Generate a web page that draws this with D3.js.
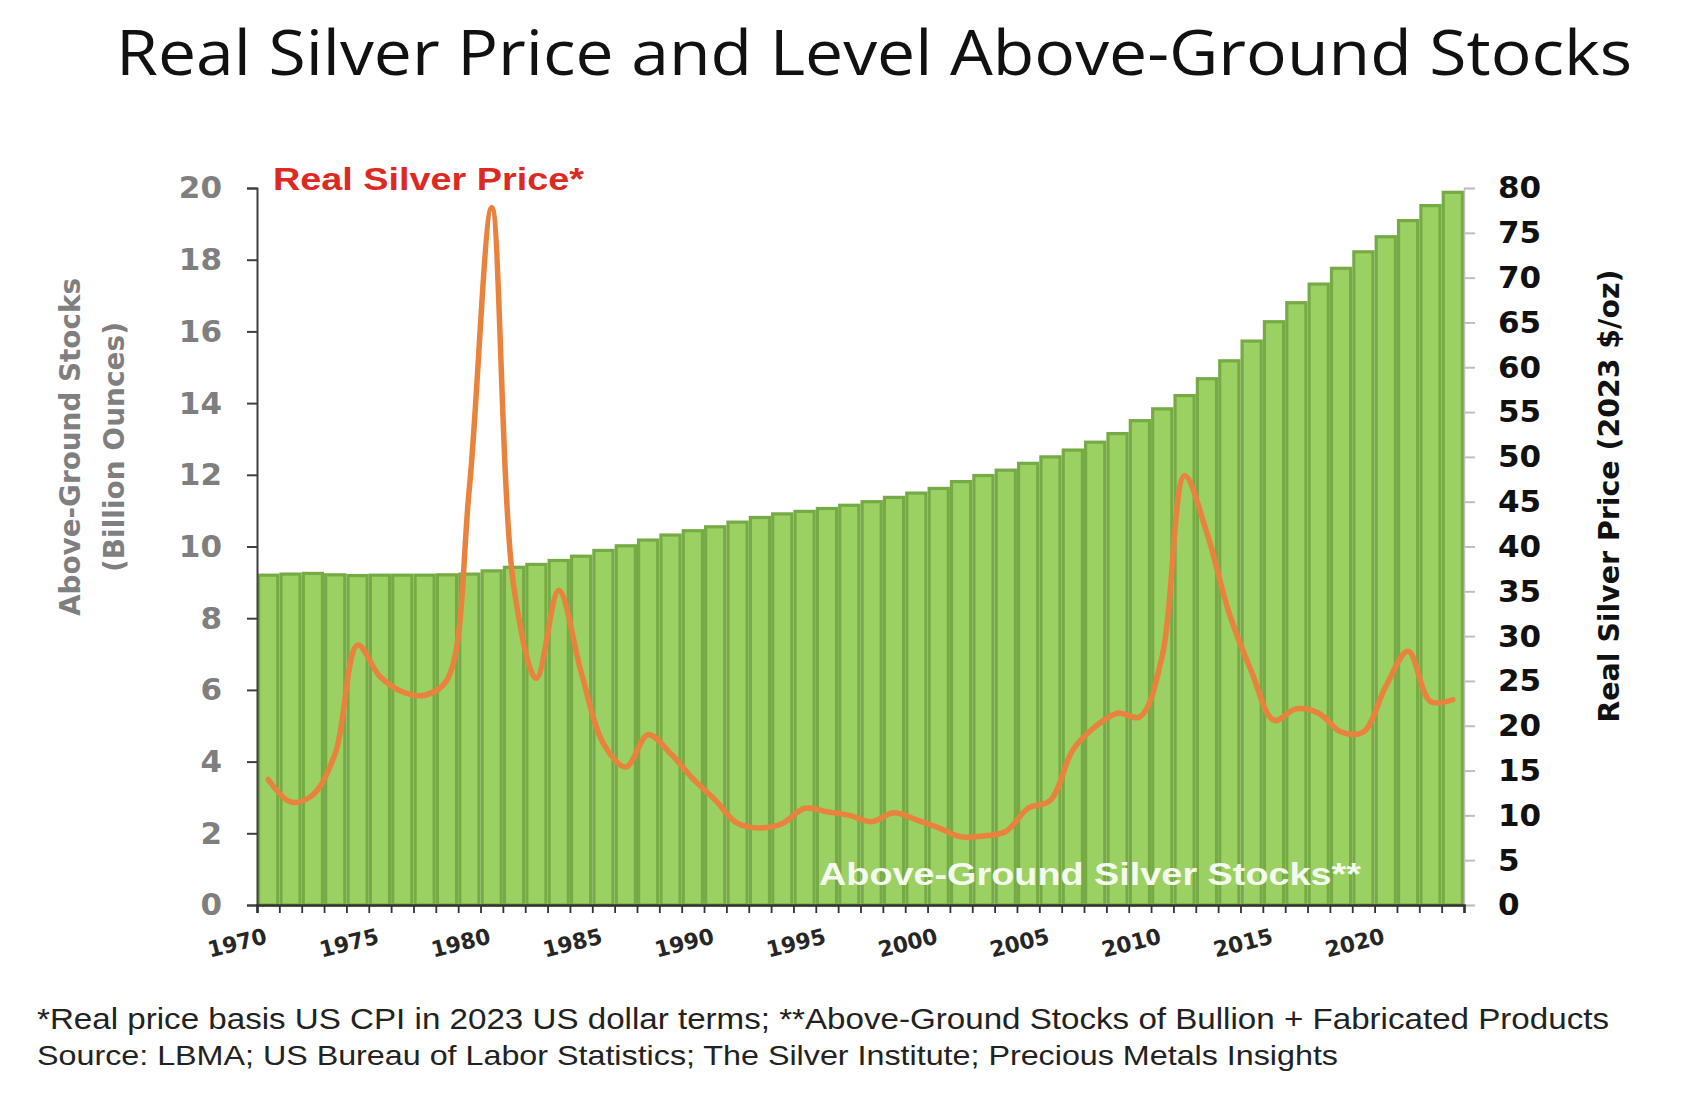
<!DOCTYPE html>
<html>
<head>
<meta charset="utf-8">
<script src="https://cdn.jsdelivr.net/npm/d3@7"></script>
<style>
  html, body { margin: 0; padding: 0; background: #fff; }
  svg { display: block; }
</style>
</head>
<body>
<div id="chart"></div>
<script>
// Years shown on the category axis (one bar per year)
const years = d3.range(1970, 2024);

// Above-ground silver stocks, billion ounces
const stocks = [
  9.20, 9.23, 9.25, 9.21, 9.19, 9.20, 9.20, 9.20, 9.21, 9.23,
  9.32, 9.42, 9.50, 9.61, 9.73, 9.89, 10.02, 10.18, 10.32, 10.44,
  10.55, 10.68, 10.81, 10.91, 10.98, 11.06, 11.15, 11.25, 11.37, 11.49,
  11.62, 11.81, 11.98, 12.13, 12.32, 12.50, 12.69, 12.91, 13.15, 13.51,
  13.84, 14.21, 14.68, 15.18, 15.73, 16.27, 16.80, 17.32, 17.76, 18.22,
  18.64, 19.09, 19.51, 19.88
];

// Real silver price, 2023 $/oz
const prices = [
  14.0, 11.5, 12.3, 16.9, 29.0, 25.5, 23.8, 23.4, 25.1, 46.5,
  77.8, 35.3, 25.3, 35.1, 26.0, 18.0, 15.4, 19.0, 16.9, 14.1,
  11.7, 9.1, 8.6, 9.1, 10.8, 10.4, 10.0, 9.3, 10.3, 9.5,
  8.6, 7.6, 7.7, 8.2, 10.8, 11.7, 17.3, 19.9, 21.4, 21.0,
  27.8, 47.9, 41.5, 32.5, 26.0, 20.6, 21.9, 21.4, 19.3, 19.3,
  24.4, 28.3, 22.7, 22.9
];

const leftTicks = d3.range(0, 21, 2);
const rightTicks = d3.range(0, 81, 5);
const labelYears = d3.range(1970, 2021, 5);

const title = "Real Silver Price and Level Above-Ground Stocks";
const leftTitle = ["Above-Ground Stocks", "(Billion Ounces)"];
const rightTitle = "Real Silver Price (2023 $/oz)";
const priceLabel = "Real Silver Price*";
const stockLabel = "Above-Ground Silver Stocks**";
const notes = [
  "*Real price basis US CPI in 2023 US dollar terms; **Above-Ground Stocks of Bullion + Fabricated Products",
  "Source: LBMA; US Bureau of Labor Statistics; The Silver Institute; Precious Metals Insights"
];

const width = 1690, height = 1098;
const plot = {left: 257, right: 1464, top: 188, bottom: 905};

const svg = d3.select("#chart").append("svg")
  .attr("width", width)
  .attr("height", height)
  .attr("viewBox", [0, 0, width, height]);

svg.append("rect").attr("width", width).attr("height", height).attr("fill", "#fff");

// stretch text to a measured width, the picture is a bit wide
const fit = (sel, w) => sel.attr("textLength", w).attr("lengthAdjust", "spacingAndGlyphs");

const x = d3.scaleBand().domain(years).range([plot.left, plot.right]).padding(0);
const xEdge = d3.scaleLinear([1970, 2024], [plot.left, plot.right]);
const yLeft = d3.scaleLinear([0, 20], [plot.bottom, plot.top]);
const yRight = d3.scaleLinear([0, 80], [plot.bottom, plot.top]);

// bars, the dark outline makes the stripes between them
const sw = 3.2;
svg.append("g")
  .selectAll("rect")
  .data(years)
  .join("rect")
  .attr("x", (d) => x(d) + sw / 2)
  .attr("width", x.bandwidth() - sw)
  .attr("y", (d, i) => yLeft(stocks[i]))
  .attr("height", (d, i) => plot.bottom - yLeft(stocks[i]))
  .attr("fill", "#9bd062")
  .attr("stroke", "#76aa45")
  .attr("stroke-width", sw);

// price line
const line = d3.line()
  .x((d, i) => x(years[i]) + x.bandwidth() / 2)
  .y((d) => yRight(d))
  .curve(d3.curveCatmullRom.alpha(0.5));

svg.append("path")
  .datum(prices)
  .attr("d", line)
  .attr("fill", "none")
  .attr("stroke", "#e9823c")
  .attr("stroke-width", 5.5)
  .attr("stroke-linejoin", "round")
  .attr("stroke-linecap", "round");

// left axis
const gL = svg.append("g")
  .attr("transform", `translate(${plot.left},0)`)
  .call(d3.axisLeft(yLeft).tickValues(leftTicks).tickSize(10).tickPadding(25).tickFormat(d3.format("d")));
gL.select(".domain").attr("stroke", "#3f3f3f").attr("stroke-width", 2);
gL.selectAll(".tick line").attr("stroke", "#3f3f3f").attr("stroke-width", 2);
gL.selectAll(".tick text")
  .attr("fill", "#7f7f7f")
  .attr("font-family", "'DejaVu Sans', Verdana, sans-serif")
  .attr("font-weight", "bold")
  .attr("font-size", 31);

// right axis
const gR = svg.append("g")
  .attr("transform", `translate(${plot.right},0)`)
  .call(d3.axisRight(yRight).tickValues(rightTicks).tickSize(11).tickPadding(23).tickFormat(d3.format("d")));
gR.select(".domain").attr("stroke", "#bfbfbf").attr("stroke-width", 1.5);
gR.selectAll(".tick line").attr("stroke", "#bfbfbf").attr("stroke-width", 2);
gR.selectAll(".tick text")
  .attr("fill", "#111")
  .attr("font-family", "'DejaVu Sans', Verdana, sans-serif")
  .attr("font-weight", "bold")
  .attr("font-size", 31);

// bottom axis: ticks between the years
const gB = svg.append("g")
  .attr("transform", `translate(0,${plot.bottom})`)
  .call(d3.axisBottom(xEdge).tickValues(d3.range(1970, 2025)).tickSize(8).tickFormat(""));
gB.select(".domain").attr("stroke", "#333").attr("stroke-width", 2.5);
gB.selectAll(".tick line").attr("stroke", "#333").attr("stroke-width", 1.8);

svg.append("g")
  .selectAll("text")
  .data(labelYears)
  .join("text")
  .attr("transform", (d) => `translate(${x(d) + x.bandwidth() / 2},943) rotate(-14)`)
  .attr("text-anchor", "end")
  .attr("fill", "#262626")
  .attr("font-family", "'DejaVu Sans', Verdana, sans-serif")
  .attr("font-weight", "bold")
  .attr("font-size", 22)
  .text((d) => d)
  .call(fit, 60);

// axis titles
const axisFont = "'DejaVu Sans', Verdana, sans-serif";
svg.append("text")
  .attr("transform", "translate(70,447) rotate(-90)")
  .attr("text-anchor", "middle")
  .attr("dominant-baseline", "central")
  .attr("fill", "#7f7f7f")
  .attr("font-family", axisFont)
  .attr("font-weight", "bold")
  .attr("font-size", 28)
  .text(leftTitle[0])
  .call(fit, 338);
svg.append("text")
  .attr("transform", "translate(114,447) rotate(-90)")
  .attr("text-anchor", "middle")
  .attr("dominant-baseline", "central")
  .attr("fill", "#7f7f7f")
  .attr("font-family", axisFont)
  .attr("font-weight", "bold")
  .attr("font-size", 28)
  .text(leftTitle[1])
  .call(fit, 250);
svg.append("text")
  .attr("transform", "translate(1609,496) rotate(-90)")
  .attr("text-anchor", "middle")
  .attr("dominant-baseline", "central")
  .attr("fill", "#111")
  .attr("font-family", axisFont)
  .attr("font-weight", "bold")
  .attr("font-size", 28)
  .text(rightTitle)
  .call(fit, 453);

// series labels
svg.append("text")
  .attr("x", 273).attr("y", 190)
  .attr("fill", "#dc2a22")
  .attr("font-family", "'Liberation Sans', Arial, sans-serif")
  .attr("font-weight", "bold")
  .attr("font-size", 31)
  .text(priceLabel)
  .call(fit, 311);

svg.append("text")
  .attr("x", 819).attr("y", 885)
  .attr("fill", "#f4f9ee")
  .attr("font-family", "'Liberation Sans', Arial, sans-serif")
  .attr("font-weight", "bold")
  .attr("font-size", 31)
  .text(stockLabel)
  .call(fit, 542);

// title
svg.append("text")
  .attr("x", 116).attr("y", 75)
  .attr("fill", "#111")
  .attr("font-family", "'Open Sans', sans-serif")
  .attr("font-size", 62)
  .text(title)
  .call(fit, 1516);

// footnotes
svg.append("text")
  .attr("x", 37).attr("y", 1029)
  .attr("fill", "#222")
  .attr("font-family", "'Liberation Sans', Arial, sans-serif")
  .attr("font-size", 29)
  .text(notes[0])
  .call(fit, 1572);
svg.append("text")
  .attr("x", 37).attr("y", 1065)
  .attr("fill", "#222")
  .attr("font-family", "'Liberation Sans', Arial, sans-serif")
  .attr("font-size", 28)
  .text(notes[1])
  .call(fit, 1301);
</script>
</body>
</html>
